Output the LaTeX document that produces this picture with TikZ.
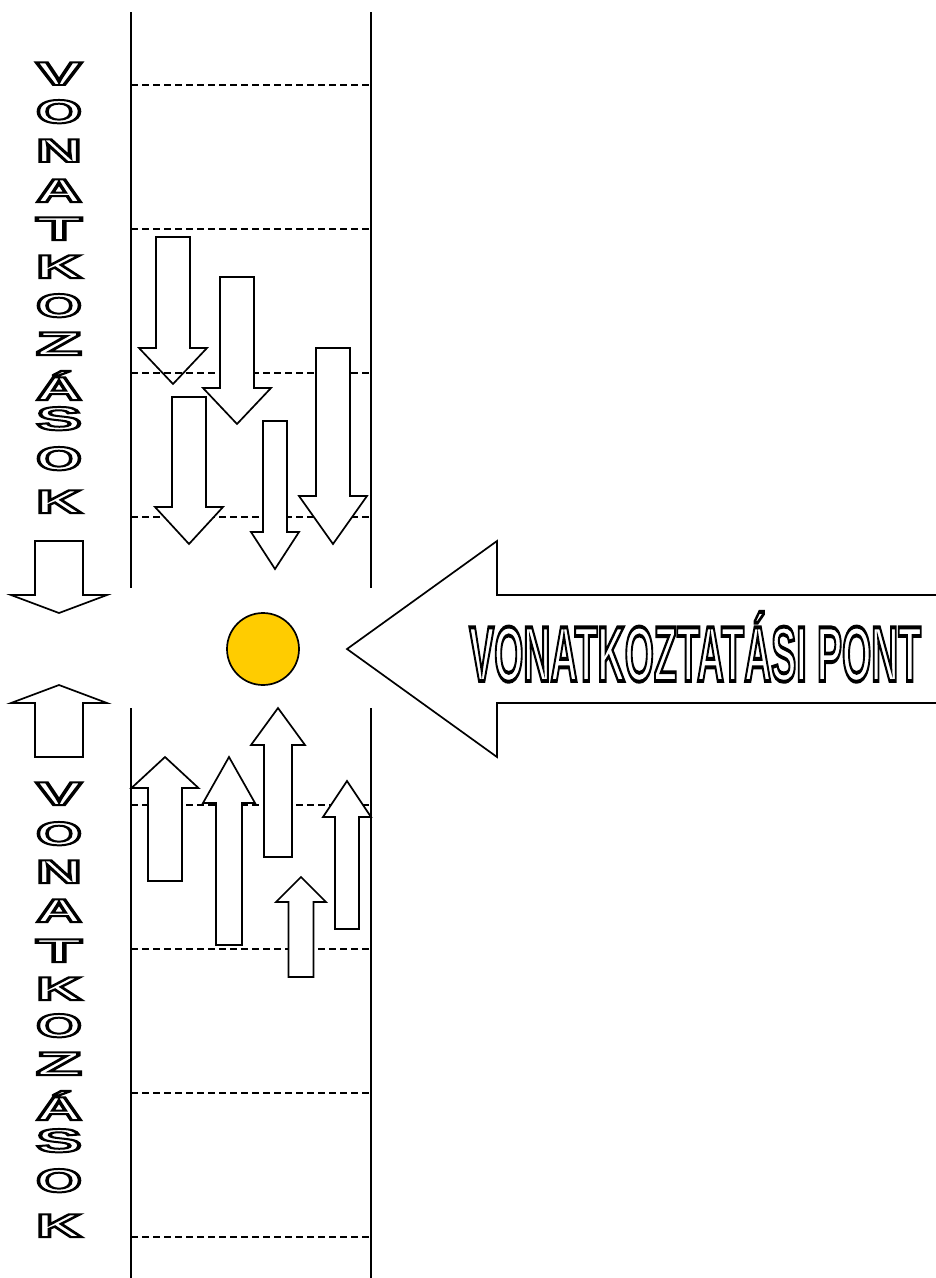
\documentclass[tikz,border=0pt]{standalone}
\usepackage{fontspec}
\setmainfont{Liberation Sans}
\newfontfamily\hollowfont{Liberation Sans Bold}[FakeBold=6]
\newfontfamily\hollowbig{Liberation Sans Bold}[FakeBold=5]
\usepackage{graphicx}
\definecolor{refyellow}{HTML}{FFCC00}

% hollow (outlined) letters: white fill, black stroke
\newcommand{\hollow}[1]{{\color{white}\special{pdf:code 0 G}#1}}
% block arrow: centre x, half shaft, half head, tail y, head base y, tip y
\newcommand{\blockarrow}[6]{%
  \draw[arrowbox] ({#1-#2},#4) -- ({#1+#2},#4) -- ({#1+#2},#5) -- ({#1+#3},#5)
    -- (#1,#6) -- ({#1-#3},#5) -- ({#1-#2},#5) -- cycle;}

\tikzset{
  arrowbox/.style={draw, fill=white, line width=1.7pt, line join=miter},
  lane/.style={line width=1.7pt},
  lanemark/.style={line width=1.7pt, dash pattern=on 6.5pt off 4.5pt},
  stacklet/.style={inner sep=0pt, anchor=base, font=\hollowfont\fontsize{33}{34}\selectfont}
}

\begin{document}
\begin{tikzpicture}[x=1pt, y=-1pt]

    \useasboundingbox (0,0) rectangle (936,1278);

    % Lane borders, upper and lower half
    \coordinate (UL) at (131,12);
    \coordinate (UR) at (371,12);
    \coordinate (LL) at (131,708);
    \coordinate (LR) at (371,708);
    \draw[lane] (UL) -- (131,588);
    \draw[lane] (UR) -- (371,588);
    \draw[lane] (LL) -- (131,1278);
    \draw[lane] (LR) -- (371,1278);

    % First downward arrow sits under the marks
    \blockarrow{173}{17}{34}{237}{348}{384}

    % Dashed marks across the lane
    \foreach \y in {85,229,373,517,805,949,1093,1237}
        \draw[lanemark] (131,\y) -- (371,\y);

    % Downward arrows above the point
    \blockarrow{237}{17}{34}{277}{388}{424}
    \blockarrow{189}{17}{34}{397}{507}{544}
    \blockarrow{275}{12}{24}{421}{532}{569}
    \blockarrow{333}{17}{34}{348}{496}{544}

    % Upward arrows below the point
    \blockarrow{165}{17}{33.5}{881}{788}{757}
    \blockarrow{229}{13}{26}{945}{803}{757}
    \blockarrow{278}{14}{27}{857}{745}{708}
    \blockarrow{301}{12.5}{25}{977}{902}{877}
    \blockarrow{347}{12}{24}{929}{817}{781}

    % Large arrows on the left
    \blockarrow{59}{24}{48}{541}{595}{613}
    \blockarrow{59}{24}{48}{757}{703}{685}

    % The reference point
    \node[circle, draw, line width=1.7pt, fill=refyellow, minimum size=72pt, inner sep=0pt] (refpt) at (263,649) {};

    % Big arrow pointing at it, open on the right
    \draw[arrowbox] (936,595) -- (497,595) -- (497,541) -- (347,649)
        -- (497,757) -- (497,703) -- (936,703);
    \node[inner sep=0pt, anchor=base west, font=\hollowbig\fontsize{78}{80}\selectfont] (ptlabel) at (469,681)
        {\hollow{\resizebox{452pt}{\height}{VONATKOZTATÁSI PONT}}};

    % Stacked letters, upper and lower column
    \foreach \ch/\b [count=\i] in {V/85,O/123,N/162,A/202,T/240,K/278,O/317,Z/355,Á/400,S/430,O/470,K/513}
        \node[stacklet] (up\i) at (59,\b) {\hollow{\resizebox{46pt}{\height}{\ch}}};
    \foreach \ch/\b [count=\i] in {V/805,O/845,N/883,A/922,T/962,K/1000,O/1037,Z/1075,Á/1120,S/1152,O/1192,K/1237}
        \node[stacklet] (dn\i) at (59,\b) {\hollow{\resizebox{46pt}{\height}{\ch}}};

\end{tikzpicture}
\end{document}
